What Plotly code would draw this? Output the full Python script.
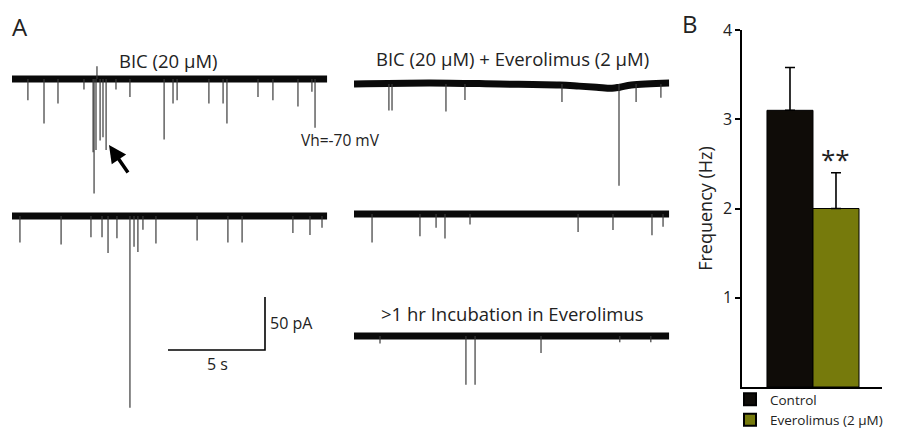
import plotly.graph_objects as go

# ---------------- data ----------------
# Panel A: spontaneous events (time in s, amplitude in pA, inward = positive amplitude drawn downward)
t1_times = [0.82, 1.65, 2.37, 3.71, 4.18, 4.23, 4.33, 4.38, 4.54, 4.69, 4.85, 5.36, 6.08, 7.84, 8.30, 8.51,
            10.15, 10.88, 11.08, 12.68, 13.45, 14.74, 15.46, 15.62]
t1_amps = [20, 42, 23, 10, 69, 108, 67, -12, 58, 55, 67, 10, 17, 57, 23, 20,
           23, 23, 42, 17, 20, 26, 12, 46]

t2_times = [1.80, 1.96, 4.74, 5.72, 10.72, 13.66, 14.54, 15.82]
t2_amps = [25, 25, 26, 15, 17, 96, 17, 13]
t2_drift_t = [0.0, 3.9, 7.5, 10.6, 11.6, 12.5, 13.3, 13.7, 14.3, 16.25]
t2_drift_v = [0, 1, 0, -1, -2, -3, -4, -3, -1, 1]

t3_times = [0.41, 2.53, 4.07, 4.64, 4.95, 5.41, 6.08, 6.29, 6.49, 6.75, 7.42, 9.54, 11.13, 11.86, 14.48, 15.36, 15.98]
t3_amps = [25, 27, 20, 20, 35, 21, 181, 29, 34, 13, 26, 23, 25, 25, 16, 18, 11]

t4_times = [0.93, 3.40, 4.23, 4.69, 5.98, 11.55, 13.35, 15.36, 15.93]
t4_amps = [27, 21, 13, 23, 10, 17, 15, 20, 12]

t5_times = [1.34, 5.77, 6.24, 9.64, 13.70, 15.30]
t5_amps = [7, 46, 46, 16, 6, 6]

SWEEP = 16.25          # s
SCALE_T = 5            # s
SCALE_I = 50           # pA

# Panel B
groups = ["Control", "Everolimus (2 μM)"]
freq = [3.1, 2.0]
sem = [0.48, 0.40]
bar_colors = ["#0f0c08", "#767a0c"]

# ---------------- layout helpers ----------------
W, H = 898, 430
PX_PER_S = 19.4
PX_PER_PA = 1.06

fig = go.Figure()


def px_x(p):
    return p / W


def px_y(p):
    return 1 - p / H


def add_sweep(idx, x0_px, base_py, times, amps, drift_t=None, drift_v=None):
    xa = "x" if idx == 1 else f"x{idx}"
    ya = "y" if idx == 1 else f"y{idx}"
    top_py = max(base_py - 60, 0)
    bot_py = min(base_py + 200, H)
    layout_x = "xaxis" if idx == 1 else f"xaxis{idx}"
    layout_y = "yaxis" if idx == 1 else f"yaxis{idx}"
    fig.layout[layout_x] = dict(domain=[px_x(x0_px), px_x(x0_px + SWEEP * PX_PER_S)],
                                range=[0, SWEEP], visible=False, fixedrange=True, anchor=ya)
    fig.layout[layout_y] = dict(domain=[px_y(bot_py), px_y(top_py)],
                                range=[-(bot_py - base_py) / PX_PER_PA, (base_py - top_py) / PX_PER_PA],
                                visible=False, fixedrange=True, anchor=xa)
    # baseline (noise band)
    bx = drift_t if drift_t else [0, SWEEP]
    by = drift_v if drift_v else [0, 0]
    fig.add_trace(go.Scatter(x=bx, y=by, mode="lines", xaxis=xa, yaxis=ya,
                             line=dict(color="#0a0a0a", width=7, shape="spline"),
                             showlegend=False, hoverinfo="skip"))
    # events
    sx, sy = [], []
    for t, a in zip(times, amps):
        sx += [t, t, None]
        sy += [0, -a, None]
    fig.add_trace(go.Scatter(x=sx, y=sy, mode="lines", xaxis=xa, yaxis=ya,
                             line=dict(color="#3a3a3a", width=1.2), showlegend=False, hoverinfo="skip"))
    return xa, ya


add_sweep(1, 12, 79, t1_times, t1_amps)
add_sweep(2, 354, 84, t2_times, t2_amps, t2_drift_t, t2_drift_v)
xa3, ya3 = add_sweep(3, 12, 216, t3_times, t3_amps)
add_sweep(4, 354, 214, t4_times, t4_amps)
add_sweep(5, 354, 336, t5_times, t5_amps)

# scale bar on sweep-3 axes
sb_t0 = (168 - 12) / PX_PER_S
sb_i0 = -(350 - 216) / PX_PER_PA
fig.add_trace(go.Scatter(x=[sb_t0, sb_t0 + SCALE_T, sb_t0 + SCALE_T],
                         y=[sb_i0, sb_i0, sb_i0 + SCALE_I], mode="lines", xaxis=xa3, yaxis=ya3,
                         line=dict(color="#000000", width=1.6), showlegend=False, hoverinfo="skip"))

# ---------------- Panel B ----------------
for i, (g, f, s, c) in enumerate(zip(groups, freq, sem, bar_colors)):
    fig.add_trace(go.Bar(x=[i], y=[f], name=g, width=1.0, xaxis="x6", yaxis="y6",
                         marker=dict(color=c, line=dict(color="#000000", width=1)),
                         error_y=dict(type="data", symmetric=False, array=[s], arrayminus=[0],
                                      color="#000000", thickness=1.6, width=5)))

fig.layout["xaxis6"] = dict(domain=[px_x(742), px_x(882)], range=[-1.043, 2.0], anchor="y6",
                            showline=True, linecolor="#000000", linewidth=1.5, ticks="",
                            showticklabels=False, showgrid=False, zeroline=False, fixedrange=True)
fig.layout["yaxis6"] = dict(domain=[px_y(387), px_y(30)], range=[0, 4], anchor="x6",
                            showline=True, linecolor="#000000", linewidth=1.5, ticks="outside",
                            ticklen=5, tickwidth=1.5, tickcolor="#000000", automargin=False,
                            tickvals=[1, 2, 3, 4], showgrid=False, zeroline=False,
                            tickfont=dict(size=16, color="#222"),
                            title=dict(text="Frequency (Hz)", font=dict(size=18, color="#222"), standoff=6),
                            fixedrange=True)

fig.add_annotation(x=1, y=2.55, xref="x6", yref="y6", text="**", showarrow=False,
                   font=dict(size=26, color="#222"))

# ---------------- text annotations ----------------
def label(text, x, y, size=18.5, xanchor="center"):
    fig.add_annotation(x=px_x(x), y=px_y(y), xref="paper", yref="paper", text=text,
                       showarrow=False, xanchor=xanchor, yanchor="middle",
                       font=dict(size=size, color="#222"))


label("A", 20, 27, 24)
label("B", 690, 23, 24)
label("BIC (20 μM)", 168, 61)
label("BIC (20 μM) + Everolimus (2 μM)", 512, 58)
label("Vh=-70 mV", 340, 140, 15.5)
label("&gt;1 hr Incubation in Everolimus", 512, 313)
label("50 pA", 268, 323, 16, "left")
label("5 s", 217, 364, 16)

fig.add_annotation(x=px_x(109), y=px_y(145), xref="paper", yref="paper", ax=20, ay=29,
                   text="", showarrow=True, arrowhead=2, arrowsize=1, arrowwidth=3.5,
                   arrowcolor="#000000")

fig.update_layout(
    width=W, height=H, autosize=False,
    margin=dict(l=0, r=0, t=0, b=0, pad=0, autoexpand=False),
    paper_bgcolor="#ffffff", plot_bgcolor="rgba(0,0,0,0)",
    font=dict(family="Open Sans, Noto Sans, DejaVu Sans", color="#222"),
    barmode="overlay",
    legend=dict(x=px_x(730), y=px_y(384), xanchor="left", yanchor="top",
                font=dict(size=13.5, color="#222"), tracegroupgap=0, itemsizing="constant",
                bgcolor="rgba(0,0,0,0)", borderwidth=0),
)

fig.write_html("out.html", config={"displayModeBar": False},
               post_script="document.body.style.margin='0px';document.body.style.overflow='hidden';")
